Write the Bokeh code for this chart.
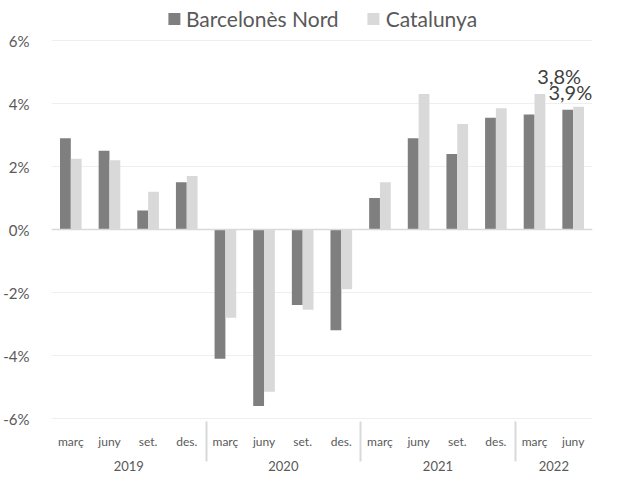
from bokeh.plotting import figure
from bokeh.models import (FactorRange, Span, Legend, LegendItem, PrintfTickFormatter,
                          ColumnDataSource, FixedTicker)
from bokeh.transform import dodge
from bokeh.core.properties import value
from bokeh.embed import file_html
from bokeh.resources import INLINE

years = ["2019"] * 4 + ["2020"] * 4 + ["2021"] * 4 + ["2022"] * 2
months = ["març", "juny", "set.", "des."] * 3 + ["març", "juny"]
barcelones_nord = [2.9, 2.5, 0.6, 1.5, -4.1, -5.6, -2.4, -3.2, 1.0, 2.9, 2.4, 3.55, 3.65, 3.8]
catalunya = [2.25, 2.2, 1.2, 1.7, -2.8, -5.15, -2.55, -1.9, 1.5, 4.3, 3.35, 3.85, 4.3, 3.9]
series_names = ["Barcelonès Nord", "Catalunya"]
y_ticks = [-6, -4, -2, 0, 2, 4, 6]

FONT = "Lato"
TXT = "#595959"
C_BN = "#7f7f7f"
C_CAT = "#d9d9d9"

factors = list(zip(years, months))
src = ColumnDataSource(dict(x=factors, bn=barcelones_nord, cat=catalunya))

# extra headroom above the 6% line holds the legend
p = figure(x_range=FactorRange(*factors, group_padding=0, factor_padding=0, range_padding=0),
           y_range=(y_ticks[0], 7.08), width=622, height=482,
           output_backend="svg", toolbar_location=None,
           min_border_left=42, min_border_right=30, min_border_top=6, min_border_bottom=64)
p.outline_line_color = None

r1 = p.vbar(x=dodge('x', -0.14, range=p.x_range), top='bn', width=0.28, source=src,
            fill_color=C_BN, line_color=None)
r2 = p.vbar(x=dodge('x', 0.14, range=p.x_range), top='cat', width=0.28, source=src,
            fill_color=C_CAT, line_color=None)

p.add_layout(Span(location=0, dimension="width", line_color="#d9d9d9", line_width=1.5))

# data labels on the last quarter
lab_bn = ColumnDataSource(dict(x=[factors[-1]], y=[barcelones_nord[-1]],
                               t=[f"{barcelones_nord[-1]:.1f}%".replace(".", ",")],
                               dx=[-14], dy=[-34]))
lab_cat = ColumnDataSource(dict(x=[factors[-1]], y=[catalunya[-1]],
                                t=[f"{catalunya[-1]:.1f}%".replace(".", ",")],
                                dx=[19], dy=[-15]))
p.text(x='x', y='y', text='t', source=lab_bn, x_offset='dx', y_offset='dy',
       text_font=value(FONT), text_font_size="20px", text_color="#404040",
       text_align="center", text_baseline="middle")
p.text(x='x', y='y', text='t', source=lab_cat, x_offset='dx', y_offset='dy',
       text_font=value(FONT), text_font_size="20px", text_color="#404040",
       text_align="right", text_baseline="middle")

# axes
p.yaxis.ticker = FixedTicker(ticks=y_ticks)
p.yaxis.formatter = PrintfTickFormatter(format="%d%%")
p.yaxis.axis_line_color = None
p.yaxis.major_tick_line_color = None
p.yaxis.minor_tick_line_color = None
p.yaxis.major_label_text_font = FONT
p.yaxis.major_label_text_font_size = "15px"
p.yaxis.major_label_text_color = TXT
p.yaxis.major_label_standoff = 16

p.ygrid.grid_line_color = "#efefef"
p.xgrid.grid_line_color = None

xa = p.xaxis[0]
xa.axis_line_color = "#eeeeee"
xa.major_tick_line_color = None
xa.minor_tick_line_color = None
xa.major_label_text_font = FONT
xa.major_label_text_font_size = "12px"
xa.major_label_text_color = TXT
xa.major_label_standoff = 9
xa.group_text_font = FONT
xa.group_text_font_size = "13px"
xa.group_text_font_style = "normal"
xa.group_text_color = TXT
xa.separator_line_color = "#d9d9d9"

legend = Legend(items=[LegendItem(label=series_names[0], renderers=[r1]),
                       LegendItem(label=series_names[1], renderers=[r2])],
                orientation="horizontal", location="top_center",
                label_text_font=FONT, label_text_font_size="21px", label_text_color=TXT,
                glyph_width=15, glyph_height=15, spacing=27, label_standoff=5,
                padding=0, margin=0, border_line_color=None, background_fill_alpha=0)
p.add_layout(legend)

open("out.html", "w").write(file_html(p, INLINE))
